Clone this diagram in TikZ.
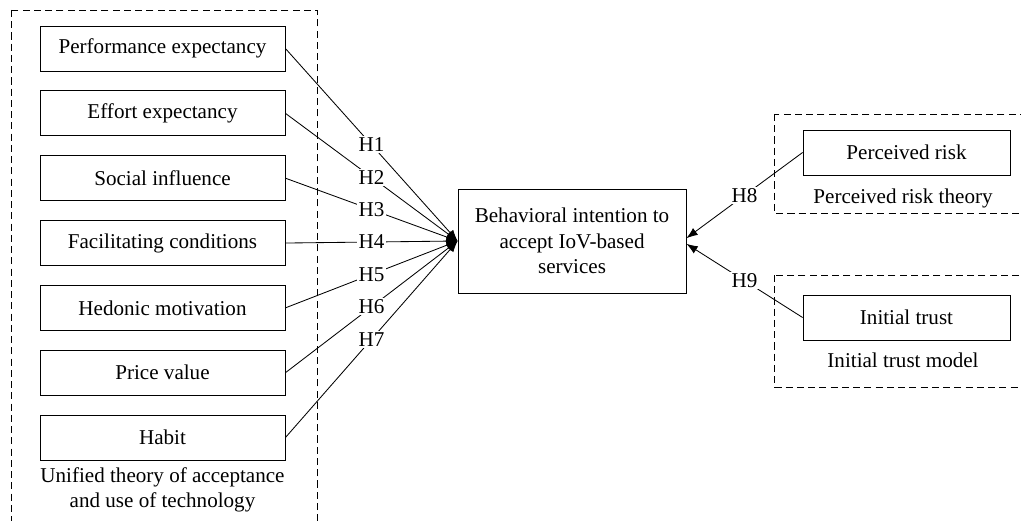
\documentclass[tikz,border=0pt]{standalone}
\usepackage{fontspec}
\setmainfont{Liberation Serif}
\usepackage{tikz}
\usetikzlibrary{
    arrows.meta,
    positioning
}
\tikzstyle{box} = [
    rectangle, draw,
    minimum width=6.125cm,
    minimum height=1.125cm,
    text centered,
    align=center,
    line width=0.6pt
]
\tikzstyle{rbox} = [
    box,
    minimum width=5.175cm
]
\tikzstyle{theorybox} = [
    draw,
    dash pattern=on 5pt off 3pt,
    line width=0.6pt
]
\tikzstyle{hyp} = [
    fill=white,
    inner sep=1pt
]
\tikzstyle{arrow} = [
    line width=0.6pt,
    -{Latex[length=8pt,width=6pt]}
]

\begin{document}
\begin{tikzpicture}[
	font=\fontsize{15}{18}\selectfont,
	node distance=0.475cm
]
\useasboundingbox (0,0) rectangle (25.525,-13.025);
\clip (0,0) rectangle (25.525,-13.025);

% UTAUT constructs
\node (pe) [box] at (4.0625,-1.2125) {Performance expectancy};
\node (ee) [box, below=of pe] {Effort expectancy};
\node (si) [box, below=of ee] {Social influence};
\node (fc) [box, below=of si] {Facilitating conditions};
\node (hm) [box, below=of fc] {Hedonic motivation};
\node (pv) [box, below=of hm] {Price value};
\node (hb) [box, below=of pv] {Habit};
\node (utaut) [align=center] at (4.0625,-12.24)
    {Unified theory of acceptance\\and use of technology};
\draw [theorybox] (0.275,-0.25) rectangle (7.925,-13.5);

% Zielkonstrukt
\node (bi) [box, minimum width=5.7cm, minimum height=2.6cm] at (14.3,-6.025)
    {Behavioral intention to\\accept IoV-based\\services};

% Risiko und Vertrauen
\node (pr) [rbox] at (22.6625,-3.8125) {Perceived risk};
\node (prt) at (22.575,-4.95) {Perceived risk theory};
\draw [theorybox] (19.35,-2.85) rectangle (25.8,-5.325);
\node (it) [rbox] at (22.6625,-7.9375) {Initial trust};
\node (itm) at (22.575,-9.0) {Initial trust model};
\draw [theorybox] (19.35,-6.875) rectangle (25.8,-9.675);

\draw [arrow] (pe.east) -- node (h1) [hyp] {H1} (bi.west);
\draw [arrow] (ee.east) -- node (h2) [hyp] {H2} (bi.west);
\draw [arrow] (si.east) -- node (h3) [hyp] {H3} (bi.west);
\draw [arrow] (fc.east) -- node (h4) [hyp] {H4} (bi.west);
\draw [arrow] (hm.east) -- node (h5) [hyp] {H5} (bi.west);
\draw [arrow] (pv.east) -- node (h6) [hyp] {H6} (bi.west);
\draw [arrow] (hb.east) -- node (h7) [hyp] {H7} (bi.west);

\draw [arrow] (pr.west) -- node (h8) [hyp] {H8} ([yshift=2pt]bi.east);
\draw [arrow] (it.west) -- node (h9) [hyp] {H9} ([yshift=-2pt]bi.east);

\end{tikzpicture}
\end{document}
